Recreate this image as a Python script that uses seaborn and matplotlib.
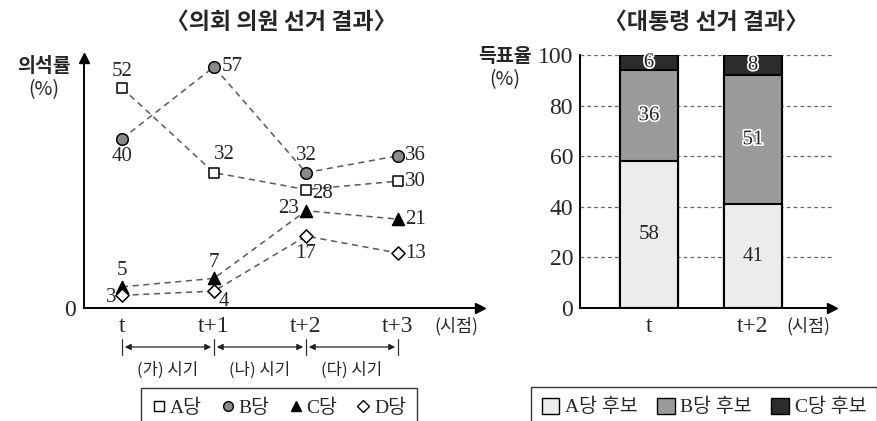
import numpy as np
import pandas as pd
import seaborn as sns
import matplotlib.pyplot as plt
import matplotlib.patheffects as pe
from matplotlib.lines import Line2D
from matplotlib.patches import Patch

# 의회 의원 선거 결과 (의석률 %)
periods = ["t", "t+1", "t+2", "t+3"]
party_names = ["A당", "B당", "C당", "D당"]
seat_a = [52, 32, 28, 30]
seat_b = [40, 57, 32, 36]
seat_c = [5, 7, 23, 21]
seat_d = [3, 4, 17, 13]
stage_labels = ["(가) 시기", "(나) 시기", "(다) 시기"]

# 대통령 선거 결과 (득표율 %)
pres_periods = ["t", "t+2"]
cand_names = ["A당 후보", "B당 후보", "C당 후보"]
vote_a = [58, 41]
vote_b = [36, 51]
vote_c = [6, 8]

sns.set_theme(style="white")
MIX = ["Liberation Serif", "Noto Sans CJK KR"]
KR = ["Noto Sans CJK KR", "DejaVu Sans"]
plt.rcParams["font.family"] = MIX
plt.rcParams["axes.unicode_minus"] = False

W, H = 878, 421
fig = plt.figure(figsize=(W / 100, H / 100), dpi=100)


def box(l, t, r, b):
    return [l / W, 1 - b / H, (r - l) / W, (b - t) / H]


# ---------------- left: line chart ----------------
ax1 = fig.add_axes(box(84, 58, 480, 308))
x_idx = np.arange(len(periods))
seats = pd.DataFrame({
    "x": np.tile(x_idx, 4),
    "val": seat_a + seat_b + seat_c + seat_d,
    "party": np.repeat(party_names, len(periods)),
})
sns.lineplot(data=seats, x="x", y="val", hue="party",
             palette={p: "#5a5a5a" for p in party_names},
             linestyle=(0, (4, 3)), lw=1.1, legend=False, ax=ax1)

mk = {"A당": ("s", "white", 55), "B당": ("o", "#8a8a8a", 70),
      "C당": ("^", "black", 75), "D당": ("D", "white", 45)}
for p in party_names:
    m, fc, s = mk[p]
    sub = seats[seats.party == p]
    sns.scatterplot(x=sub.x, y=sub.val, marker=m, color=fc, s=s,
                    edgecolor="black", linewidth=1.1, zorder=3, ax=ax1,
                    legend=False)

# label offsets (pixels) and alignment per point
offs = {
    "A당": [(0, 17, "center"), (10, 18, "center"), (6, -4, "left"), (7, 0, "left")],
    "B당": [(0, -18, "center"), (8, 0, "left"), (0, 17, "center"), (7, 0, "left")],
    "C당": [(0, 16, "center"), (0, 16, "center"), (-7, 2, "right"), (7, 0, "left")],
    "D당": [(-6, -2, "right"), (5, -10, "left"), (0, -17, "center"), (7, 0, "left")],
}
for p in party_names:
    sub = seats[seats.party == p]
    for (xx, vv), (dx, dy, ha) in zip(zip(sub.x, sub.val), offs[p]):
        ax1.annotate(str(vv), (xx, vv), xytext=(dx, dy), textcoords="offset pixels",
                     ha=ha, va="center", fontsize=15, family=MIX)

ax1.set_xlim(-38 / 92, (480 - 122) / 92)
ax1.set_ylim(0, 250 / 4.23)
for s in ["top", "right"]:
    ax1.spines[s].set_visible(False)
for s in ["left", "bottom"]:
    ax1.spines[s].set_color("black")
    ax1.spines[s].set_linewidth(1.4)
ax1.plot(0, 1, marker="^", color="black", ms=7, transform=ax1.transAxes, clip_on=False)
ax1.plot(1, 0, marker=">", color="black", ms=7, transform=ax1.transAxes, clip_on=False)
ax1.set_xticks(x_idx)
ax1.set_xticklabels(periods, fontsize=17)
ax1.set_yticks([0])
ax1.set_yticklabels(["0"], fontsize=17)
ax1.tick_params(axis="x", direction="inout", length=8, width=0.8, color="#777", pad=2)
ax1.tick_params(axis="y", length=0, pad=6)
ax1.set_xlabel("")
ax1.set_ylabel("")

# period brackets
tr = ax1.get_xaxis_transform()
yb = (308 - 347) / 250
for xx in x_idx:
    ax1.plot([xx, xx], [(308 - 339) / 250, (308 - 355) / 250], color="#333",
             lw=0.9, transform=tr, clip_on=False)
for i, lab in enumerate(stage_labels):
    ax1.annotate("", xy=(i + 0.03, yb), xytext=(i + 0.97, yb), xycoords=tr,
                 textcoords=tr, annotation_clip=False,
                 arrowprops=dict(arrowstyle="<|-|>", color="#222", lw=0.9,
                                 mutation_scale=9, shrinkA=0, shrinkB=0))
    ax1.text(i + 0.5, (308 - 370) / 250, lab, transform=tr, ha="center",
             va="center", fontsize=12, family=KR)

fig.text(281 / W, 1 - 22 / H, "〈의회 의원 선거 결과〉", ha="center", va="center",
         fontsize=16.5, family=KR, weight="bold")
fig.text(44 / W, 1 - 67 / H, "의석률", ha="center", va="center", fontsize=14,
         family=KR, weight="bold")
fig.text(44 / W, 1 - 90 / H, "(%)", ha="center", va="center", fontsize=14,
         family=KR)
fig.text(456 / W, 1 - 326 / H, "(시점)", ha="center", va="center", fontsize=12.5,
         family=KR)

leg_handles = [
    Line2D([], [], ls="", marker=mk[p][0], mfc=mk[p][1], mec="black",
           ms=7 if p != "D당" else 6, label=p) for p in party_names
]
fig.legend(handles=leg_handles, loc="upper center", ncol=4,
           bbox_to_anchor=(279 / W, 1 - 388 / H), frameon=True, fancybox=False,
           edgecolor="black", handlelength=0.7, handletextpad=0.2,
           columnspacing=1.0, borderpad=0.55, borderaxespad=0,
           prop={"family": MIX, "size": 14})

# ---------------- right: stacked bar ----------------
ax2 = fig.add_axes(box(580, 55, 832, 308))
col_a, col_b, col_c = "#ececec", "#9a9a9a", "#2c2c2c"
ab = np.add(vote_a, vote_b)
total = ab + np.array(vote_c)
for vals, col in [(total, col_c), (ab, col_b), (vote_a, col_a)]:
    sns.barplot(x=pres_periods, y=vals, color=col, saturation=1, width=0.56,
                edgecolor="black", linewidth=1.5, ax=ax2, zorder=2)

for i in range(len(pres_periods)):
    ax2.text(i, vote_a[i] / 2, str(vote_a[i]), ha="center", va="center",
             fontsize=15, zorder=4)
    for v, base in [(vote_b[i], vote_a[i]), (vote_c[i], ab[i])]:
        ax2.text(i, base + v / 2, str(v), ha="center", va="center", fontsize=15,
                 zorder=4, path_effects=[pe.withStroke(linewidth=2.5, foreground="white")])

ax2.set_xlim((580 - 649) / 104, (832 - 649) / 104)
ax2.set_ylim(0, 100)
ax2.set_yticks(range(0, 101, 20))
ax2.tick_params(axis="y", labelsize=17, length=0, pad=5)
ax2.tick_params(axis="x", labelsize=17, length=0, pad=6)
ax2.yaxis.grid(True, linestyle=(0, (3, 2.5)), color="#666", lw=0.9)
ax2.set_axisbelow(True)
for s in ["top", "right"]:
    ax2.spines[s].set_visible(False)
for s in ["left", "bottom"]:
    ax2.spines[s].set_color("black")
    ax2.spines[s].set_linewidth(1.4)
    ax2.spines[s].set_zorder(5)
ax2.plot(1, 0, marker=">", color="black", ms=7, transform=ax2.transAxes, clip_on=False)
ax2.set_xlabel("")
ax2.set_ylabel("")

fig.text(706 / W, 1 - 22 / H, "〈대통령 선거 결과〉", ha="center", va="center",
         fontsize=16.5, family=KR, weight="bold")
fig.text(505 / W, 1 - 57 / H, "득표율", ha="center", va="center", fontsize=14,
         family=KR, weight="bold")
fig.text(505 / W, 1 - 80 / H, "(%)", ha="center", va="center", fontsize=14,
         family=KR)
fig.text(808 / W, 1 - 326 / H, "(시점)", ha="center", va="center", fontsize=12.5,
         family=KR)

bar_handles = [Patch(facecolor=c, edgecolor="black", label=n)
               for c, n in zip([col_a, col_b, col_c], cand_names)]
fig.legend(handles=bar_handles, loc="upper right", ncol=3,
           bbox_to_anchor=(877 / W, 1 - 387 / H), frameon=True, fancybox=False,
           edgecolor="black", handlelength=0.9, handleheight=0.9,
           handletextpad=0.3, columnspacing=1.0, borderpad=0.55, borderaxespad=0,
           prop={"family": MIX, "size": 14})

fig.savefig("out.png", dpi=100, facecolor="white")
